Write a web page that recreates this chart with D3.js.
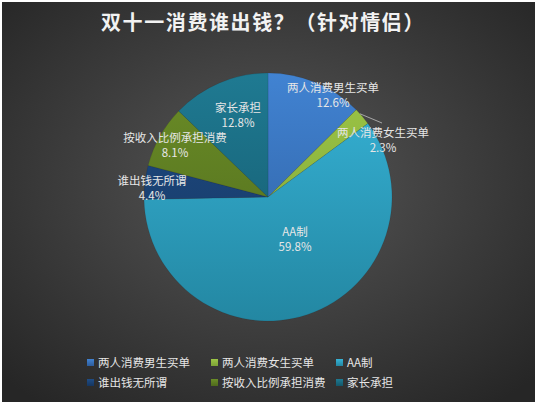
<!DOCTYPE html>
<html>
<head>
<meta charset="utf-8">
<script src="https://cdn.jsdelivr.net/npm/d3@7"></script>
<style>
  html, body { margin: 0; padding: 0; background: #fff; }
  svg { display: block; }
  text { font-family: "Noto Sans CJK SC", "Microsoft YaHei", sans-serif; }
</style>
</head>
<body>
<div id="chart"></div>
<script>
// chart data
const categories = ["两人消费男生买单", "两人消费女生买单", "AA制", "谁出钱无所谓", "按收入比例承担消费", "家长承担"];
const values = [12.6, 2.3, 59.8, 4.4, 8.1, 12.8];
const colorsTop = ["#4183d2", "#9dc646", "#37b4d8", "#1f4d86", "#6b8d27", "#1f7a92"];
const colorsBottom = ["#2d5c9c", "#7ca136", "#2387a2", "#15355f", "#4e691c", "#13576a"];
const title = "双十一消费谁出钱？（针对情侣）";

const width = 538;
const height = 404;
const cx = 268, cy = 197, radius = 124;

// where each data label sits, relative to the pie centre
const labelOffsets = [[65, -102], [115, -57], [27, 42], [-116, -9], [-93, -52], [-30, -82]];

const svg = d3.select("#chart").append("svg")
  .attr("width", width)
  .attr("height", height);

const defs = svg.append("defs");

// background gradient
const bg = defs.append("radialGradient")
  .attr("id", "bg")
  .attr("cx", "50%").attr("cy", "45%").attr("r", "70%");
bg.append("stop").attr("offset", "0%").attr("stop-color", "#575757");
bg.append("stop").attr("offset", "100%").attr("stop-color", "#262626");

svg.append("rect")
  .attr("x", 2).attr("y", 2)
  .attr("width", width - 5).attr("height", height - 4)
  .attr("fill", "url(#bg)");

// slice gradients, top to bottom over the whole pie
colorsTop.forEach((c, i) => {
  const g = defs.append("linearGradient")
    .attr("id", "slice" + i)
    .attr("gradientUnits", "userSpaceOnUse")
    .attr("x1", 0).attr("y1", -radius)
    .attr("x2", 0).attr("y2", radius);
  g.append("stop").attr("offset", "0%").attr("stop-color", c);
  g.append("stop").attr("offset", "100%").attr("stop-color", colorsBottom[i]);

  const lg = defs.append("linearGradient")
    .attr("id", "leg" + i)
    .attr("x1", 0).attr("y1", 0).attr("x2", 0).attr("y2", 1);
  lg.append("stop").attr("offset", "0%").attr("stop-color", c);
  lg.append("stop").attr("offset", "100%").attr("stop-color", colorsBottom[i]);
});

// title
svg.append("text")
  .attr("x", 263)
  .attr("y", 30)
  .attr("text-anchor", "middle")
  .attr("fill", "#f2f2f2")
  .attr("font-size", "20px")
  .attr("font-weight", "bold")
  .attr("letter-spacing", "1.6px")
  .text(title);

const data = categories.map((name, i) => ({ name, value: values[i], i }));

const pie = d3.pie()
  .value(d => d.value)
  .sort(null);

const arc = d3.arc().innerRadius(0).outerRadius(radius);
const arcs = pie(data);

const g = svg.append("g").attr("transform", `translate(${cx},${cy})`);

g.selectAll("path")
  .data(arcs)
  .enter()
  .append("path")
  .attr("d", arc)
  .attr("fill", d => `url(#slice${d.data.i})`)
  .attr("stroke", "rgba(0,0,0,0.15)")
  .attr("stroke-width", 0.6);

// data labels
arcs.forEach((d, k) => {
  const [x, y] = labelOffsets[k];
  const t = g.append("text")
    .attr("text-anchor", "middle")
    .attr("fill", "#e6e6e6")
    .attr("font-size", "11.5px");
  t.append("tspan").attr("x", x).attr("y", y - 3).text(d.data.name);
  t.append("tspan").attr("x", x).attr("y", y + 12).text(d3.format(".1f")(d.data.value) + "%");

  // leader line for the thin slice whose label sits outside
  if (k === 1) {
    const a = d.startAngle + (d.endAngle - d.startAngle) * 0.3;
    const ex = Math.sin(a) * radius;
    const ey = -Math.cos(a) * radius;
    g.append("line")
      .attr("x1", ex).attr("y1", ey)
      .attr("x2", x - 1).attr("y2", y - 17)
      .attr("stroke", "#bfbfbf")
      .attr("stroke-width", 0.8);
  }
});

// legend
const legendCols = [87, 211, 336];
const legendRows = [363, 383];
const legend = svg.append("g");
data.forEach((d, i) => {
  const lx = legendCols[i % 3];
  const ly = legendRows[Math.floor(i / 3)];
  legend.append("rect")
    .attr("x", lx).attr("y", ly - 4)
    .attr("width", 7).attr("height", 7)
    .attr("fill", `url(#leg${i})`);
  legend.append("text")
    .attr("x", lx + 11).attr("y", ly + 4)
    .attr("fill", "#e6e6e6")
    .attr("font-size", "11.5px")
    .text(d.name);
});
</script>
</body>
</html>
